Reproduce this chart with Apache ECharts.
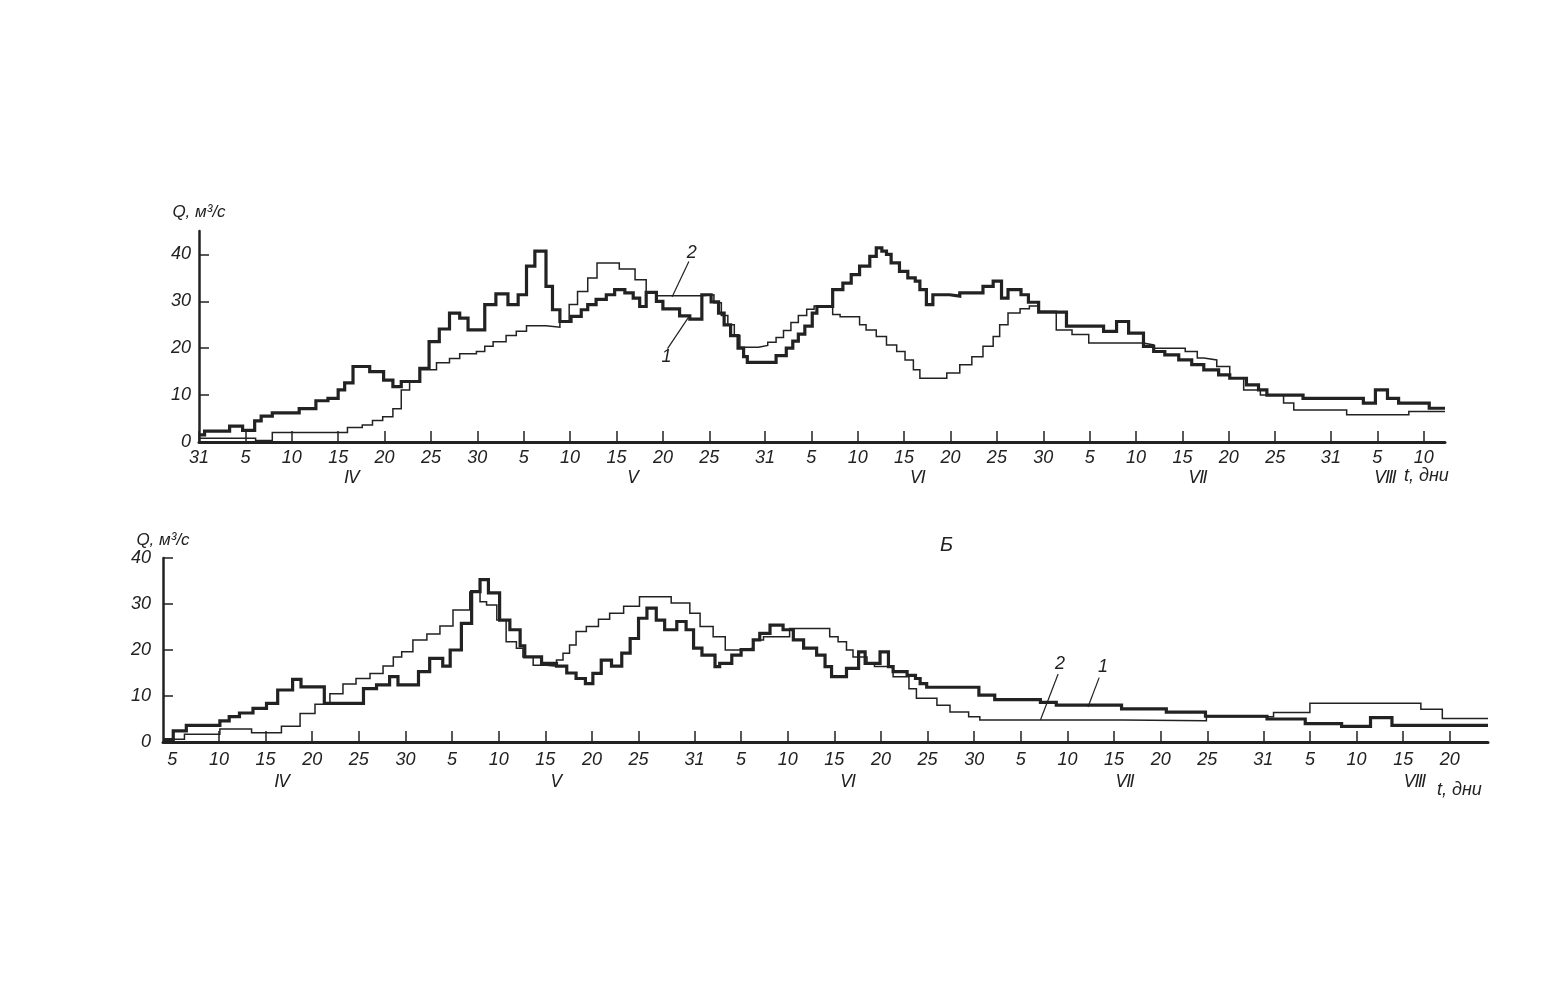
<!DOCTYPE html>
<html><head><meta charset="utf-8">
<script src="https://cdn.jsdelivr.net/npm/echarts/dist/echarts.min.js"></script>
<style>html,body{margin:0;padding:0;background:#fff}#c{width:1563px;height:1000px}</style>
</head><body><div id="c"></div>
<script>
// Day numbers are counted from 31 March (day 0). Values: Q, m3/s.
// ---- Upper panel ----
const topThickDays = [0, 0.6, 3.3, 4.7, 6.0, 6.7, 7.9, 10.8, 12.6, 13.9, 15.0, 15.7, 16.6, 18.4, 19.9, 20.9, 21.8, 23.8, 24.8, 25.9, 27.0, 28.1, 29.0, 30.8, 32.0, 33.3, 34.4, 35.3, 36.2, 37.4, 38.1, 38.9, 40.1, 41.2, 41.9, 42.8, 43.9, 44.8, 45.9, 46.8, 47.5, 48.2, 49.3, 50.0, 51.8, 52.9, 54.2, 55.2, 56.0, 56.6, 57.3, 58.1, 58.7, 59.1, 62.2, 63.3, 64.0, 64.6, 65.3, 66.1, 66.6, 68.3, 69.4, 70.3, 71.2, 72.3, 73.0, 73.6, 74.1, 74.6, 75.5, 76.4, 77.2, 77.7, 78.4, 79.1, 80.9, 82.0, 84.5, 85.6, 86.5, 87.2, 88.6, 89.4, 90.5, 93.5, 97.5, 98.9, 100.2, 101.8, 102.9, 104.1, 105.6, 107.0, 108.3, 109.9, 111.1, 112.9, 114.2, 115.1, 119.0, 125.5, 126.8, 128.1, 129.3, 132.6];
const topThickQ = [1.5, 2.3, 3.4, 2.5, 4.5, 5.5, 6.2, 7.1, 8.8, 9.3, 11.1, 12.6, 16.1, 15.0, 13.2, 11.8, 12.9, 15.7, 21.4, 24.1, 27.5, 26.4, 23.9, 29.3, 31.6, 29.3, 31.4, 37.5, 40.7, 33.2, 28.2, 25.7, 26.8, 28.2, 29.3, 30.4, 31.4, 32.5, 31.8, 30.7, 28.9, 31.9, 30.0, 28.4, 26.9, 26.2, 31.4, 29.9, 27.5, 25.0, 22.7, 20.0, 18.2, 17.0, 18.4, 20.0, 21.5, 23.0, 24.7, 27.5, 28.9, 32.5, 33.9, 35.7, 37.5, 39.6, 41.4, 40.7, 40.0, 38.2, 36.4, 35.0, 34.3, 32.5, 29.3, 31.4, 31.1, 31.8, 33.2, 34.3, 30.7, 32.5, 31.4, 29.8, 27.7, 24.7, 23.6, 25.7, 23.2, 20.4, 19.3, 18.6, 17.5, 16.5, 15.4, 14.3, 13.6, 12.2, 11.1, 10.0, 9.3, 8.3, 11.1, 9.3, 8.3, 7.2];
const topThinDays = [0, 6.1, 7.9, 16.0, 17.6, 18.7, 19.8, 20.9, 21.8, 22.7, 23.8, 25.6, 27.0, 28.1, 29.9, 30.8, 31.7, 33.1, 34.2, 35.3, 37.4, 38.9, 39.9, 40.8, 41.9, 42.9, 45.3, 47.0, 48.2, 49.3, 54.2, 55.5, 56.3, 57.0, 57.7, 58.3, 60.3, 61.3, 62.2, 63.0, 63.8, 64.6, 65.5, 66.3, 68.3, 69.1, 71.2, 71.9, 73.0, 74.1, 75.2, 76.1, 77.0, 77.7, 80.6, 82.0, 83.3, 84.5, 85.6, 86.3, 87.2, 88.5, 89.5, 90.5, 92.4, 94.1, 95.9, 101.8, 102.9, 106.3, 107.6, 108.3, 109.7, 111.1, 112.6, 114.4, 116.9, 118.0, 123.7, 130.4];
const topThinQ = [0.8, 0.3, 2.0, 3.1, 3.6, 4.6, 5.4, 7.1, 11.1, 12.9, 15.4, 16.9, 17.8, 18.8, 19.3, 20.4, 21.4, 22.7, 23.6, 24.8, 24.5, 25.7, 29.3, 32.1, 35.0, 38.2, 36.9, 34.6, 31.9, 31.2, 31.4, 29.7, 27.0, 25.0, 22.7, 20.2, 20.6, 21.3, 22.3, 23.8, 25.5, 27.0, 28.3, 29.0, 27.2, 26.7, 25.0, 23.9, 22.5, 20.7, 19.3, 17.5, 15.4, 13.6, 14.7, 16.5, 18.2, 20.4, 22.5, 25.0, 27.5, 28.4, 29.0, 27.9, 23.9, 22.9, 21.1, 20.7, 20.0, 19.3, 17.9, 17.5, 16.1, 13.6, 11.1, 10.0, 8.3, 6.8, 5.8, 6.5];
const topEnd = 134.3;
const topTicks = [0, 5, 10, 15, 20, 25, 30, 35, 40, 45, 50, 55, 61, 66, 71, 76, 81, 86, 91, 96, 101, 106, 111, 116, 122, 127, 132];
const topMonthPos = [16.5, 46.8, 77.5, 107.7, 127.9];

// ---- Lower panel (Б) ----
const botThickDays = [4.0, 5.1, 6.5, 10.1, 11.1, 12.2, 13.65, 15.1, 16.3, 17.9, 18.8, 21.3, 25.5, 26.9, 28.3, 29.2, 31.4, 32.6, 34.0, 34.8, 36.0, 37.1, 38.0, 38.9, 40.1, 41.2, 42.3, 42.8, 44.6, 46.2, 47.3, 48.3, 49.3, 50.1, 51.0, 52.1, 53.2, 54.1, 55.0, 55.9, 56.9, 57.8, 59.1, 60.1, 60.9, 61.8, 63.2, 63.7, 65.0, 66.0, 67.3, 68.0, 69.1, 70.5, 71.6, 72.7, 74.1, 75.0, 75.7, 77.3, 78.6, 79.3, 80.9, 81.8, 82.3, 83.8, 84.7, 85.2, 85.9, 91.5, 93.2, 98.1, 99.8, 106.8, 111.6, 115.8, 122.4, 126.5, 130.4, 133.5, 135.8];
const botThickQ = [0.5, 2.4, 3.6, 4.6, 5.5, 6.3, 7.3, 8.4, 11.3, 13.6, 12.0, 8.4, 11.6, 12.4, 14.2, 12.4, 15.3, 18.2, 16.5, 20.0, 25.8, 32.7, 35.3, 32.4, 26.5, 24.4, 20.9, 18.5, 17.1, 16.5, 15.0, 13.8, 12.7, 14.9, 17.8, 16.5, 19.3, 22.5, 26.9, 29.1, 26.5, 24.4, 26.2, 24.4, 20.4, 18.9, 16.4, 17.1, 18.9, 20.1, 22.2, 23.6, 25.4, 24.4, 22.2, 20.4, 18.9, 16.4, 14.2, 16.0, 19.6, 17.1, 19.6, 16.4, 15.3, 14.5, 13.8, 12.7, 11.9, 10.2, 9.2, 8.6, 8.0, 7.2, 6.5, 5.6, 5.0, 4.0, 3.4, 5.3, 3.6];
const botThinDays = [4.0, 6.3, 10.1, 13.5, 16.7, 18.7, 20.3, 21.9, 23.3, 24.7, 26.2, 27.6, 28.7, 29.6, 30.8, 32.3, 33.7, 35.1, 36.9, 38.0, 38.7, 39.8, 40.8, 41.9, 42.6, 43.7, 45.1, 46.2, 46.9, 47.6, 48.3, 49.4, 50.7, 51.9, 53.4, 55.1, 58.5, 60.5, 61.6, 63.0, 64.3, 65.9, 67.3, 68.4, 71.2, 75.5, 76.4, 77.3, 78.0, 79.5, 80.3, 82.3, 84.0, 84.8, 87.0, 88.4, 90.4, 91.6, 107.0, 115.9, 123.1, 127.0, 138.9, 141.2];
const botThinQ = [0.6, 1.7, 2.8, 2.0, 3.4, 6.2, 8.2, 10.5, 12.6, 13.8, 14.9, 16.5, 18.5, 19.6, 22.2, 23.5, 25.2, 28.7, 32.6, 30.5, 29.8, 26.5, 21.8, 20.4, 18.5, 16.7, 16.5, 17.8, 19.3, 21.1, 24.0, 25.1, 26.7, 28.0, 29.5, 31.6, 30.2, 28.0, 25.1, 22.9, 20.0, 20.4, 22.2, 22.9, 24.7, 22.9, 21.8, 20.0, 18.5, 17.1, 16.4, 14.2, 11.6, 9.5, 8.0, 6.5, 5.5, 4.8, 4.6, 5.5, 6.4, 8.4, 7.1, 5.1];
const botStart = 4.0;
const botEnd = 146.1;
const botTicks = [5, 10, 15, 20, 25, 30, 35, 40, 45, 50, 55, 61, 66, 71, 76, 81, 86, 91, 96, 101, 106, 111, 116, 122, 127, 132, 137, 142];
const botMonthPos = [16.8, 46.2, 77.5, 107.2, 138.3];

const yTicks = [0, 10, 20, 30, 40];
const monthNames = ['\u2163', '\u2164', '\u2165', '\u2166', '\u2167'];

// curve-number callouts: [label, textDay, textQ, fromDay, fromQ, toDay, toQ]
const topCallouts = [['2', 53.1, 40.4, 52.8, 38.5, 51.0, 31.0], ['1', 50.4, 18.2, 50.5, 19.9, 52.9, 27.0]];
const botCallouts = [['2', 100.2, 17.0, 100.0, 14.8, 98.1, 4.8], ['1', 104.8, 16.4, 104.4, 14.0, 103.2, 7.6]];

function steps(days, vals, end) {
  const out = days.map((d, i) => [d, vals[i]]);
  out.push([end, vals[vals.length - 1]]);
  return out;
}
function dayOfMonth(v) {
  let r = Math.round(v);
  if (r <= 0) return '31';
  const lens = [30, 31, 30, 31, 31];
  for (const L of lens) { if (r <= L) return String(r); r -= L; }
  return String(r);
}
function monthFmt(pos) {
  return function (v) {
    let b = 0;
    for (let i = 1; i < pos.length; i++) if (Math.abs(pos[i] - v) < Math.abs(pos[b] - v)) b = i;
    return monthNames[b];
  };
}

const INK = '#222';
const FONT = 'Liberation Sans';
const txt = { color: INK, fontFamily: FONT, fontStyle: 'italic', fontSize: 18 };

function dayAxis(gi, min, max, ticks, margin) {
  return {
    type: 'value', gridIndex: gi, min: min, max: max,
    axisLine: { show: true, onZero: false, lineStyle: { color: INK, width: 3 } },
    axisTick: { show: true, inside: true, length: 11, customValues: ticks, lineStyle: { color: INK, width: 1.5 } },
    axisLabel: Object.assign({ customValues: ticks, margin: margin, formatter: dayOfMonth, hideOverlap: false }, txt),
    splitLine: { show: false }
  };
}
function monthAxis(gi, min, max, pos, offset) {
  return {
    type: 'value', gridIndex: gi, min: min, max: max, position: 'bottom', offset: offset,
    axisLine: { show: false }, axisTick: { show: false },
    axisLabel: Object.assign({}, txt, { customValues: pos, margin: 8, formatter: monthFmt(pos), fontFamily: 'DejaVu Sans', fontSize: 17 }),
    splitLine: { show: false }
  };
}
function qAxis(gi, max, margin, nameGap) {
  return {
    type: 'value', gridIndex: gi, min: 0, max: max,
    name: 'Q, м³/с', nameLocation: 'end', nameGap: nameGap,
    nameTextStyle: Object.assign({}, txt, { fontSize: 17 }),
    axisLine: { show: true, lineStyle: { color: INK, width: 2.5 } },
    axisTick: { show: true, inside: true, length: 10, customValues: yTicks, lineStyle: { color: INK, width: 1.5 } },
    axisLabel: Object.assign({ customValues: yTicks, margin: margin }, txt),
    splitLine: { show: false }
  };
}
function calloutMarks(list) {
  return {
    markLine: {
      silent: true, symbol: ['none', 'none'], animation: false,
      label: { show: false },
      lineStyle: { type: 'solid', color: INK, width: 1.2 },
      data: list.map(c => [{ coord: [c[3], c[4]] }, { coord: [c[5], c[6]] }])
    },
    markPoint: {
      silent: true, symbol: 'circle', symbolSize: 1, animation: false,
      itemStyle: { color: 'rgba(0,0,0,0)' },
      label: Object.assign({ show: true, position: 'inside', formatter: '{b}' }, txt),
      data: list.map(c => ({ name: c[0], coord: [c[1], c[2]] }))
    }
  };
}
function lineSeries(xi, yi, data, width, extra) {
  return Object.assign({
    type: 'line', xAxisIndex: xi, yAxisIndex: yi, step: 'end', data: data,
    showSymbol: false, symbol: 'none', clip: false,
    lineStyle: { color: INK, width: width, join: 'miter', cap: 'butt' },
    emphasis: { disabled: true }, z: width > 2 ? 4 : 3
  }, extra || {});
}

const chart = echarts.init(document.getElementById('c'), null, { renderer: 'canvas' });
chart.setOption({
  animation: false,
  backgroundColor: '#ffffff',
  grid: [
    { left: 199, right: 118, top: 231, height: 211 },
    { left: 163, right: 75, top: 558, height: 184 }
  ],
  xAxis: [
    dayAxis(0, 0, topEnd, topTicks, 7),
    monthAxis(0, 0, topEnd, topMonthPos, 20),
    dayAxis(1, botStart, botEnd, botTicks, 9),
    monthAxis(1, botStart, botEnd, botMonthPos, 24)
  ],
  yAxis: [
    qAxis(0, 45, 8, 10),
    qAxis(1, 40, 12, 5)
  ],
  graphic: [
    { type: 'text', left: 1404, top: 467, style: Object.assign({ text: 't, дни', fill: INK, font: 'italic 18px "Liberation Sans"' }) },
    { type: 'text', left: 1437, top: 781, style: Object.assign({ text: 't, дни', fill: INK, font: 'italic 18px "Liberation Sans"' }) },
    { type: 'text', left: 940, top: 535, style: Object.assign({ text: 'Б', fill: INK, font: 'italic 20px "Liberation Sans"' }) }
  ],
  series: [
    lineSeries(0, 0, steps(topThinDays, topThinQ, topEnd), 1.5, calloutMarks(topCallouts)),
    lineSeries(0, 0, steps(topThickDays, topThickQ, topEnd), 3.2),
    lineSeries(2, 1, steps(botThinDays, botThinQ, botEnd), 1.5, calloutMarks(botCallouts)),
    lineSeries(2, 1, steps(botThickDays, botThickQ, botEnd), 3.2)
  ]
});
</script>
</body></html>
